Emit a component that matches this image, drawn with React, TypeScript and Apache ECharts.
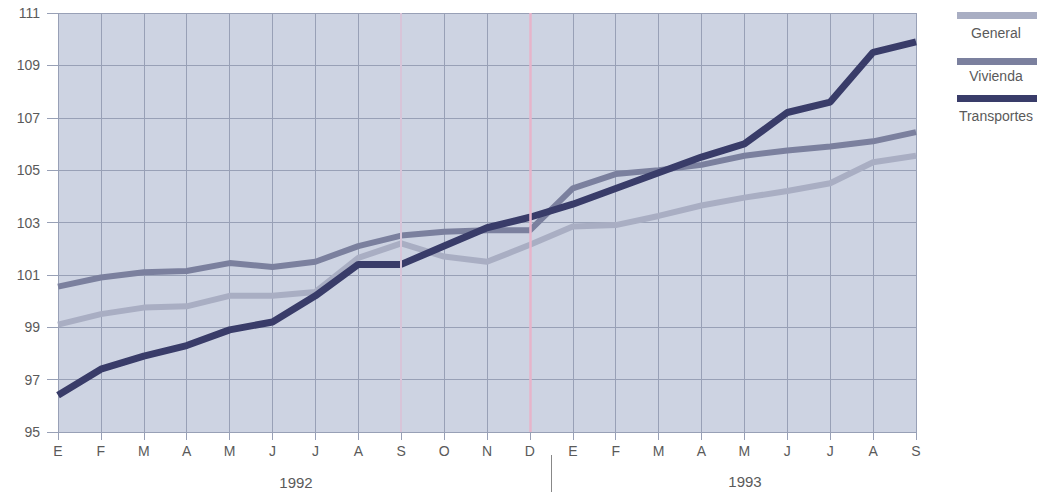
import React, { useEffect, useRef } from "react";
import * as echarts from "echarts";

const months = ["E", "F", "M", "A", "M", "J", "J", "A", "S", "O", "N", "D", "E", "F", "M", "A", "M", "J", "J", "A", "S"];
const years = ["1992", "1993"];
const general = [99.1, 99.5, 99.75, 99.8, 100.2, 100.2, 100.35, 101.65, 102.2, 101.7, 101.5, 102.15, 102.85, 102.9, 103.25, 103.65, 103.95, 104.2, 104.5, 105.3, 105.55];
const vivienda = [100.55, 100.9, 101.1, 101.15, 101.45, 101.3, 101.5, 102.1, 102.5, 102.65, 102.7, 102.7, 104.3, 104.85, 105.0, 105.2, 105.55, 105.75, 105.9, 106.1, 106.45];
const transportes = [96.4, 97.4, 97.9, 98.3, 98.9, 99.2, 100.2, 101.4, 101.4, 102.1, 102.8, 103.2, 103.7, 104.3, 104.9, 105.5, 106.0, 107.2, 107.6, 109.5, 109.9];
const seriesNames = ["General", "Vivienda", "Transportes"];
const Y_MIN = 95;
const Y_MAX = 111;
const Y_STEP = 2;

const COLORS = ["#a9aec3", "#7b809e", "#393c69"];
const FONT = "'Liberation Sans', Arial, sans-serif";
const TEXT = "#5a5a5a";

export default function App() {
  const ref = useRef<HTMLDivElement>(null);
  useEffect(() => {
    document.body.style.margin = "0";
    if (!ref.current) return;
    const chart = echarts.init(ref.current, undefined, { renderer: "svg" });
    const shift = (arr: number[]) => arr.map((v) => +(v - Y_MIN).toFixed(3));
    const gridColor = "#98a0b6";
    const option: any = {
      animation: false,
      backgroundColor: "#ffffff",
      grid: {
        left: 58,
        right: 129,
        top: 13,
        bottom: 66,
        show: true,
        backgroundColor: "#cdd3e2",
        borderWidth: 0,
      },
      xAxis: {
        type: "category",
        data: months,
        boundaryGap: false,
        axisLine: { show: true, lineStyle: { color: gridColor, width: 1 } },
        axisTick: { show: true, length: 8, lineStyle: { color: gridColor }, alignWithLabel: true },
        axisLabel: { color: TEXT, fontSize: 14, fontFamily: FONT, margin: 12, interval: 0 },
        splitLine: { show: true, interval: 0, lineStyle: { color: gridColor, width: 1 } },
      },
      yAxis: {
        type: "value",
        min: 0,
        max: Y_MAX - Y_MIN,
        interval: Y_STEP,
        axisLine: { show: false },
        axisTick: { show: true, length: 11, lineStyle: { color: gridColor } },
        axisLabel: {
          color: TEXT,
          fontSize: 14,
          fontFamily: FONT,
          margin: 18,
          formatter: (v: number) => String(v + Y_MIN),
        },
        splitLine: { show: true, lineStyle: { color: gridColor, width: 1 } },
      },
      series: [
        {
          name: seriesNames[0],
          type: "line",
          data: shift(general),
          symbol: "none",
          z: 2,
          lineStyle: { color: COLORS[0], width: 6 },
          markLine: {
            silent: true,
            symbol: "none",
            label: { show: false },
            data: [
              { xAxis: 11, lineStyle: { color: "#e6b4ca", width: 2.5, type: "solid" } },
              { xAxis: 8, lineStyle: { color: "#d8c4d8", width: 2, type: "solid" } },
            ],
          },
        },
        {
          name: seriesNames[1],
          type: "line",
          data: shift(vivienda),
          symbol: "none",
          z: 3,
          lineStyle: { color: COLORS[1], width: 6 },
        },
        {
          name: seriesNames[2],
          type: "line",
          data: shift(transportes),
          symbol: "none",
          z: 4,
          lineStyle: { color: COLORS[2], width: 7 },
        },
      ],
      graphic: [
        { type: "text", x: 296, y: 482, style: { text: years[0], fill: TEXT, fontSize: 15, fontFamily: FONT, align: "center", verticalAlign: "middle" } },
        { type: "text", x: 745, y: 481, style: { text: years[1], fill: TEXT, fontSize: 15, fontFamily: FONT, align: "center", verticalAlign: "middle" } },
        { type: "line", shape: { x1: 551.5, y1: 455, x2: 551.5, y2: 492 }, style: { stroke: "#888", lineWidth: 1 } },
        { type: "rect", shape: { x: 957, y: 12, width: 80, height: 7 }, style: { fill: COLORS[0] } },
        { type: "text", x: 996, y: 33, style: { text: seriesNames[0], fill: TEXT, fontSize: 14, fontFamily: FONT, align: "center", verticalAlign: "middle" } },
        { type: "rect", shape: { x: 957, y: 58, width: 80, height: 7 }, style: { fill: COLORS[1] } },
        { type: "text", x: 996, y: 76, style: { text: seriesNames[1], fill: TEXT, fontSize: 14, fontFamily: FONT, align: "center", verticalAlign: "middle" } },
        { type: "rect", shape: { x: 957, y: 95, width: 80, height: 7 }, style: { fill: COLORS[2] } },
        { type: "text", x: 996, y: 116, style: { text: seriesNames[2], fill: TEXT, fontSize: 14, fontFamily: FONT, align: "center", verticalAlign: "middle" } },
      ],
    };
    chart.setOption(option);
    return () => chart.dispose();
  }, []);
  return <div ref={ref} style={{ width: 1045, height: 498 }} />;
}
